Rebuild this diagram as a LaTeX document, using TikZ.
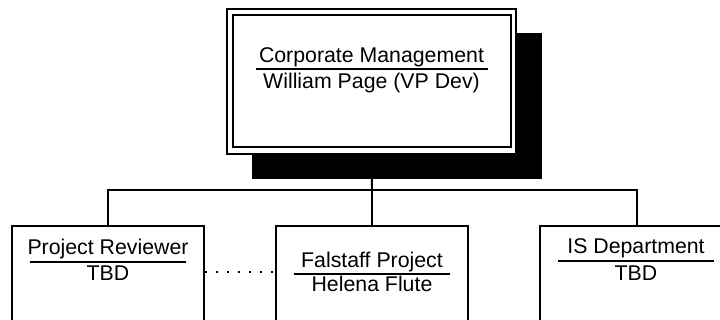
\documentclass[tikz,border=0pt]{standalone}
\usepackage{fontspec}
\setmainfont{Liberation Sans}
\begin{document}
\begin{tikzpicture}[x=1pt,y=-1pt,
  lbl/.style={anchor=base,inner sep=0pt,font=\fontsize{21.3pt}{25pt}\selectfont},
  unit/.style={draw,line width=2pt,fill=white,minimum width=192pt,minimum height=200pt,inner sep=0pt},
  wire/.style={line width=2pt},
  uline/.style={line width=1.8pt}]
\useasboundingbox (0,0) rectangle (720,320);
\clip (0,0) rectangle (720,320);
% top box
\node[fill=black,minimum width=290pt,minimum height=146pt,inner sep=0pt] (shadow) at (397,106) {};
\node[draw,line width=1.6pt,fill=white,minimum width=289pt,minimum height=145pt,inner sep=0pt] (top) at (371.5,81.5) {};
\node[draw,line width=2pt,minimum width=278pt,minimum height=132pt,inner sep=0pt] (topin) at (372,81.5) {};
\node[lbl] (t1) at (371.5,63) {Corporate Management};
\node[lbl] (t2) at (371.5,89) {William Page (VP Dev)};
\draw[uline] ([shift={(-116pt,-6pt)}]t1.base) -- ([shift={(116pt,-6pt)}]t1.base);
% bottom boxes
\node[unit] (lb) at (108,326) {};
\node[unit] (mb) at (372,326) {};
\node[unit,minimum width=194pt] (rb) at (637,326) {};
\node[lbl] (l1) at (108,255) {Project Reviewer};
\node[lbl] (l2) at (108,280) {TBD};
\draw[uline] ([shift={(-78pt,-7pt)}]l1.base) -- ([shift={(78pt,-7pt)}]l1.base);
\node[lbl] (m1) at (372,268) {Falstaff Project};
\node[lbl] (m2) at (372,291) {Helena Flute};
\draw[uline] ([shift={(-78pt,-6pt)}]m1.base) -- ([shift={(78pt,-6pt)}]m1.base);
\node[lbl] (r1) at (636,254) {IS Department};
\node[lbl] (r2) at (636,280) {TBD};
\draw[uline] ([shift={(-78pt,-7pt)}]r1.base) -- ([shift={(78pt,-7pt)}]r1.base);
% connectors
\coordinate (bus) at (372,190);
\draw[wire] (top.south) -- (bus);
\draw[wire] (lb.north) |- (bus) -| (rb.north);
\draw[wire] (bus) -- (mb.north);
\draw[line width=2.2pt,dash pattern=on 2.2pt off 8.8pt] ([yshift=-47pt]lb.north east) -- ([yshift=-47pt]mb.north west);
\end{tikzpicture}
\end{document}
